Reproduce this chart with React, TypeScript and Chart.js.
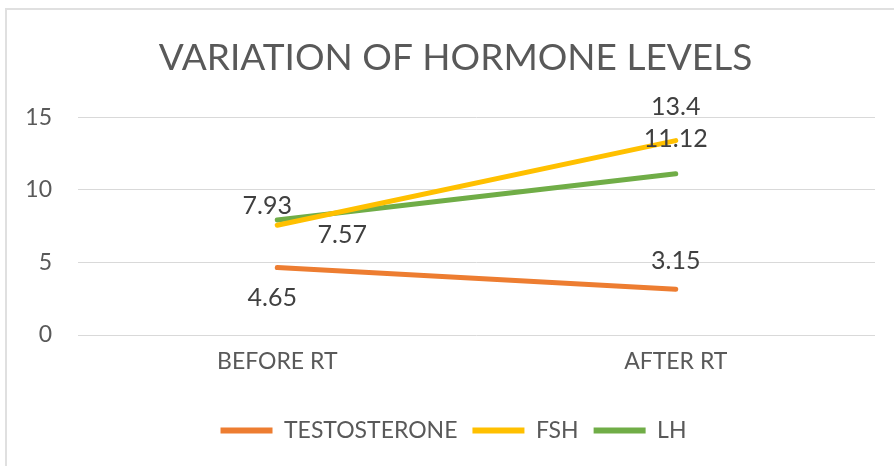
import React, { useEffect, useRef } from "react";
import { Chart, registerables } from "chart.js";

Chart.register(...registerables);

const categories = ["BEFORE RT", "AFTER RT"];
const seriesNames = ["TESTOSTERONE", "FSH", "LH"];
const testosterone = [4.65, 3.15];
const fsh = [7.57, 13.4];
const lh = [7.93, 11.12];
const yTicks = [0, 5, 10, 15];

const colors = ["#ED7D31", "#FFC000", "#70AD47"];
// label offsets (dx, dy) per series per point
const labelOffsets = [
  [[-5, 30], [0, -28]],
  [[65, 10], [0, -34]],
  [[-10, -14], [0, -35]],
];

const FONT = "Lato, 'Open Sans', sans-serif";

const dataLabelPlugin = {
  id: "dataLabels",
  afterLayout(chart: any) {
    if (chart.legend) {
      chart.legend.left += 12;
      chart.legend.right += 12;
    }
    if (chart.titleBlock) {
      chart.titleBlock.left += 14;
      chart.titleBlock.right += 14;
    }
  },
  afterDatasetsDraw(chart: any) {
    const ctx = chart.ctx;
    ctx.save();
    ctx.font = `25px ${FONT}`;
    ctx.fillStyle = "#404040";
    ctx.textAlign = "center";
    ctx.textBaseline = "middle";
    chart.data.datasets.forEach((ds: any, i: number) => {
      const meta = chart.getDatasetMeta(i);
      meta.data.forEach((pt: any, j: number) => {
        const [dx, dy] = labelOffsets[i][j];
        ctx.fillText(String(ds.data[j]), pt.x + dx, pt.y + dy);
      });
    });
    ctx.restore();
  },
};

export default function App() {
  const ref = useRef<HTMLCanvasElement>(null);
  useEffect(() => {
    const canvas = ref.current!;
    const chart = new Chart(canvas, {
      type: "line",
      data: {
        labels: categories,
        datasets: [testosterone, fsh, lh].map((d, i) => ({
          label: seriesNames[i],
          data: d,
          borderColor: colors[i],
          backgroundColor: colors[i],
          borderWidth: 5,
          borderCapStyle: "round",
          pointRadius: 0,
          pointHoverRadius: 0,
          tension: 0,
        })),
      },
      options: {
        animation: false,
        responsive: false,
        layout: { padding: { left: 8, right: 19, top: 0, bottom: 14 } },
        plugins: {
          tooltip: { enabled: false },
          title: {
            display: true,
            text: "VARIATION OF HORMONE LEVELS",
            color: "#595959",
            font: { family: FONT, size: 37, weight: "normal" },
            padding: { top: 36, bottom: 37 },
          },
          legend: {
            position: "bottom",
            labels: {
              color: "#595959",
              font: { family: FONT, size: 23 },
              boxWidth: 52,
              boxHeight: 6,
              useBorderRadius: true,
              borderRadius: 3,
              padding: 15,
              generateLabels: (c: any) =>
                c.data.datasets.map((ds: any, i: number) => ({
                  text: ds.label,
                  fillStyle: colors[i],
                  strokeStyle: colors[i],
                  lineWidth: 0,
                  fontColor: "#595959",
                  datasetIndex: i,
                  hidden: false,
                })),
            },
          },
        },
        scales: {
          x: {
            offset: true,
            grid: { display: false, drawTicks: false },
            border: { display: false },
            ticks: {
              color: "#595959",
              font: { family: FONT, size: 23 },
              padding: 13,
            },
            afterFit: (s: any) => {
              s.height = 69;
            },
          },
          y: {
            min: 0,
            max: 15,
            afterBuildTicks: (s: any) => {
              s.ticks = yTicks.map((v) => ({ value: v }));
            },
            grid: { color: "#d9d9d9", lineWidth: 1, drawTicks: false },
            border: { display: false },
            ticks: {
              color: "#595959",
              font: { family: FONT, size: 23 },
              padding: 26,
            },
            afterFit: (s: any) => {
              s.width = 70;
            },
          },
        },
      },
      plugins: [dataLabelPlugin],
    } as any);
    return () => chart.destroy();
  }, []);

  return (
    <div
      style={{
        position: "fixed",
        left: 0,
        top: 0,
        width: 894,
        height: 466,
        overflow: "hidden",
        background: "#fff",
      }}
    >
      <div
        style={{
          position: "absolute",
          left: 5,
          top: 8,
          width: 1000,
          height: 1000,
          border: "2px solid #e0e0e0",
        }}
      />
      <canvas
        ref={ref}
        width={894}
        height={466}
        style={{ position: "absolute", left: 0, top: 0 }}
      />
    </div>
  );
}
